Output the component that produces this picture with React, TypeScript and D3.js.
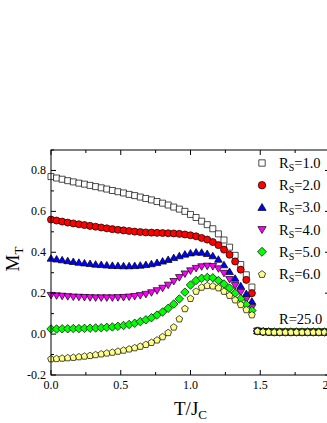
import React from 'react';
import * as d3 from 'd3';

// temperatures below the transition
const temps = [0, 0.04, 0.08, 0.12, 0.16, 0.2, 0.24, 0.28, 0.32, 0.36, 0.4, 0.44, 0.48, 0.52, 0.56, 0.6, 0.64, 0.68, 0.72, 0.76, 0.8, 0.84, 0.88, 0.92, 0.96, 1.0, 1.04, 1.08, 1.12, 1.16, 1.2, 1.24, 1.28, 1.32, 1.36, 1.4, 1.44];
// temperatures above the transition (R=25.0 branch)
const tailTemps = [1.48, 1.52, 1.56, 1.6, 1.64, 1.68, 1.72, 1.76, 1.8, 1.84, 1.88, 1.92, 1.96, 2.0];
const tailValues = [0.015, 0.012, 0.011, 0.01, 0.01, 0.01, 0.01, 0.01, 0.01, 0.01, 0.01, 0.01, 0.01, 0.01];

const rs1 = [0.770, 0.763, 0.757, 0.750, 0.744, 0.738, 0.733, 0.727, 0.721, 0.715, 0.709, 0.702, 0.696, 0.690, 0.683, 0.677, 0.670, 0.663, 0.656, 0.648, 0.640, 0.631, 0.621, 0.611, 0.600, 0.585, 0.570, 0.552, 0.535, 0.515, 0.490, 0.460, 0.425, 0.385, 0.340, 0.290, 0.230];
const rs2 = [0.560, 0.555, 0.550, 0.545, 0.541, 0.537, 0.533, 0.529, 0.525, 0.521, 0.517, 0.513, 0.510, 0.507, 0.504, 0.501, 0.499, 0.497, 0.496, 0.495, 0.494, 0.493, 0.492, 0.490, 0.487, 0.483, 0.478, 0.470, 0.462, 0.450, 0.435, 0.413, 0.388, 0.355, 0.315, 0.265, 0.200];
const rs3 = [0.370, 0.366, 0.362, 0.358, 0.354, 0.350, 0.347, 0.344, 0.341, 0.339, 0.337, 0.335, 0.334, 0.333, 0.333, 0.334, 0.336, 0.339, 0.343, 0.349, 0.356, 0.364, 0.373, 0.382, 0.390, 0.396, 0.400, 0.399, 0.393, 0.382, 0.365, 0.338, 0.305, 0.272, 0.235, 0.197, 0.160];
const rs4 = [0.190, 0.188, 0.186, 0.184, 0.182, 0.181, 0.180, 0.179, 0.178, 0.178, 0.178, 0.178, 0.179, 0.180, 0.182, 0.185, 0.189, 0.195, 0.203, 0.213, 0.225, 0.240, 0.258, 0.277, 0.295, 0.310, 0.322, 0.330, 0.333, 0.331, 0.320, 0.298, 0.268, 0.238, 0.205, 0.170, 0.130];
const rs5 = [0.025, 0.025, 0.026, 0.026, 0.027, 0.027, 0.028, 0.029, 0.030, 0.031, 0.033, 0.035, 0.038, 0.042, 0.047, 0.053, 0.061, 0.070, 0.080, 0.093, 0.108, 0.126, 0.147, 0.172, 0.205, 0.240, 0.262, 0.273, 0.277, 0.275, 0.262, 0.245, 0.225, 0.200, 0.173, 0.145, 0.115];
const rs6 = [-0.120, -0.119, -0.117, -0.115, -0.113, -0.110, -0.107, -0.104, -0.100, -0.096, -0.092, -0.088, -0.083, -0.078, -0.072, -0.066, -0.059, -0.050, -0.040, -0.028, -0.012, 0.008, 0.035, 0.075, 0.125, 0.175, 0.210, 0.230, 0.238, 0.236, 0.227, 0.210, 0.190, 0.168, 0.145, 0.120, 0.095];

const labels = ['1.0', '2.0', '3.0', '4.0', '5.0', '6.0'];
const xTicks = [0, 0.5, 1.0, 1.5, 2.0];
const yTicks = [-0.2, 0.0, 0.2, 0.4, 0.6, 0.8];

const W = 327;
const H = 423;
const FONT = "'Liberation Serif', 'Times New Roman', serif";

const x = d3.scaleLinear().domain([0, 2]).range([51, 330]);
const y = d3.scaleLinear().domain([-0.2, 0.9]).range([375, 150]);

// custom symbols; size ~ half-width squared
const pentagon: d3.SymbolType = {
  draw(ctx, size) {
    const r = Math.sqrt(size);
    for (let i = 0; i < 5; i++) {
      const a = -Math.PI / 2 + (i * 2 * Math.PI) / 5;
      if (i === 0) ctx.moveTo(r * Math.cos(a), r * Math.sin(a) + r * 0.1);
      else ctx.lineTo(r * Math.cos(a), r * Math.sin(a) + r * 0.1);
    }
    ctx.closePath();
  },
};
const triUp: d3.SymbolType = {
  draw(ctx, size) {
    const r = Math.sqrt(size);
    ctx.moveTo(0, -r * 1.05);
    ctx.lineTo(-r * 1.1, r * 0.8);
    ctx.lineTo(r * 1.1, r * 0.8);
    ctx.closePath();
  },
};
const triDown: d3.SymbolType = {
  draw(ctx, size) {
    const r = Math.sqrt(size);
    ctx.moveTo(0, r * 1.05);
    ctx.lineTo(-r * 1.1, -r * 0.8);
    ctx.lineTo(r * 1.1, -r * 0.8);
    ctx.closePath();
  },
};
const diamond: d3.SymbolType = {
  draw(ctx, size) {
    const r = Math.sqrt(size) * 1.2;
    ctx.moveTo(0, -r);
    ctx.lineTo(r, 0);
    ctx.lineTo(0, r);
    ctx.lineTo(-r, 0);
    ctx.closePath();
  },
};
const square: d3.SymbolType = {
  draw(ctx, size) {
    const r = Math.sqrt(size) * 0.85;
    ctx.rect(-r, -r, 2 * r, 2 * r);
  },
};
const circle: d3.SymbolType = {
  draw(ctx, size) {
    const r = Math.sqrt(size);
    ctx.moveTo(r, 0);
    ctx.arc(0, 0, r, 0, 2 * Math.PI);
  },
};

const seriesDefs = [
  { values: rs1, type: square, fill: '#ffffff' },
  { values: rs2, type: circle, fill: '#ff0000' },
  { values: rs3, type: triUp, fill: '#0000ff' },
  { values: rs4, type: triDown, fill: '#ff00ff' },
  { values: rs5, type: diamond, fill: '#00ff00' },
  { values: rs6, type: pentagon, fill: '#ffff88' },
];

const App: React.FC = () => {
  const minorX = d3.range(0, 2.001, 0.25);
  const minorY = d3.range(-0.2, 0.901, 0.1);
  const [x0, x1] = x.range();
  const [yb, yt] = y.range();

  return (
    <svg width={W} height={H} style={{ position: 'absolute', left: 0, top: 0, background: '#fff' }} fontFamily={FONT}>
      {/* markers */}
      {seriesDefs.map((s, si) => {
        const path = d3.symbol().type(s.type).size(12.5)() || '';
        const pts = temps.map((t, i) => [t, s.values[i]]).concat(tailTemps.map((t, i) => [t, tailValues[i]]));
        return (
          <g key={si}>
            {pts.map(([t, v], i) => (
              <path key={i} d={path} transform={`translate(${x(t)},${y(v)})`} fill={s.fill} stroke="#000" strokeWidth={0.7} />
            ))}
          </g>
        );
      })}

      {/* frame */}
      <rect x={x0} y={yt} width={x1 - x0} height={yb - yt} fill="none" stroke="#000" strokeWidth={1} />

      {/* x ticks */}
      {minorX.map((t, i) => {
        const major = Math.abs(t * 2 - Math.round(t * 2)) < 1e-6;
        const len = major ? 5 : 3;
        return (
          <g key={'xt' + i}>
            <line x1={x(t)} x2={x(t)} y1={yb} y2={yb - len} stroke="#000" />
            <line x1={x(t)} x2={x(t)} y1={yt} y2={yt + len} stroke="#000" />
          </g>
        );
      })}
      {xTicks.map((t, i) => (
        <text key={'xl' + i} x={x(t)} y={389} fontSize={12} textAnchor="middle">{t.toFixed(1)}</text>
      ))}

      {/* y ticks */}
      {minorY.map((v, i) => {
        const major = Math.abs(v * 5 - Math.round(v * 5)) < 1e-6;
        const len = major ? 5 : 3;
        return (
          <g key={'yt' + i}>
            <line x1={x0} x2={x0 + len} y1={y(v)} y2={y(v)} stroke="#000" />
            <line x1={x1} x2={x1 - len} y1={y(v)} y2={y(v)} stroke="#000" />
          </g>
        );
      })}
      {yTicks.map((v, i) => (
        <text key={'yl' + i} x={46} y={y(v) + 4} fontSize={12} textAnchor="end">{v.toFixed(1)}</text>
      ))}

      {/* axis titles */}
      <text transform={`translate(19,259) rotate(-90)`} fontSize={19} textAnchor="middle">
        M<tspan fontSize={13} dy={4}>T</tspan>
      </text>
      <text x={(x0 + x1) / 2} y={415} fontSize={19} textAnchor="middle">
        T/J<tspan fontSize={13} dy={4}>C</tspan>
      </text>

      {/* legend */}
      {seriesDefs.map((s, i) => {
        const ly = 163 + i * 22.2;
        const path = d3.symbol().type(s.type).size(14)() || '';
        return (
          <g key={'lg' + i}>
            <path d={path} transform={`translate(262,${ly})`} fill={s.fill} stroke="#000" strokeWidth={0.7} />
            <text x={279} y={ly + 5} fontSize={14.5}>
              R<tspan fontSize={10} dy={3}>S</tspan><tspan dy={-3}>={labels[i]}</tspan>
            </text>
          </g>
        );
      })}
      <text x={279} y={324} fontSize={14.5}>R=25.0</text>
    </svg>
  );
};

export default App;
